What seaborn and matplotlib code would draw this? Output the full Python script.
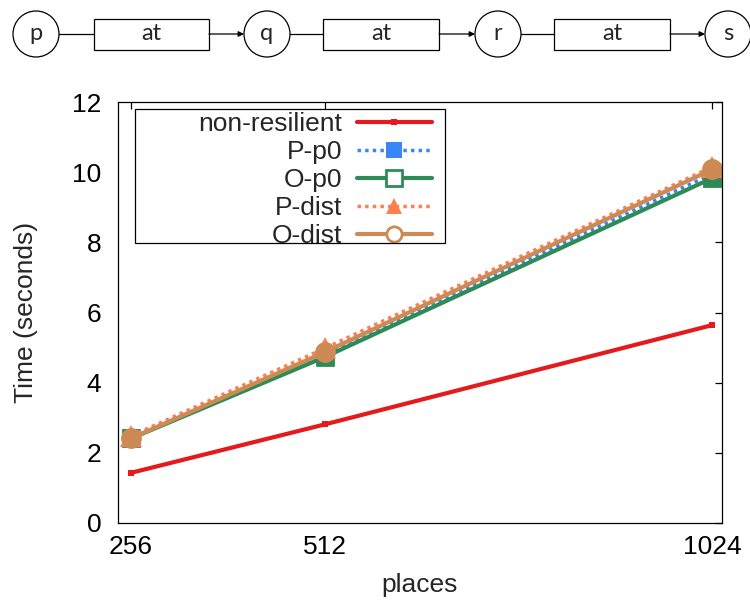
import matplotlib
matplotlib.use("Agg")
import matplotlib.pyplot as plt
import seaborn as sns
from matplotlib.patches import Circle, Rectangle

places = [256, 512, 1024]
non_resilient = [1.43, 2.81, 5.64]
p_p0 = [2.45, 4.80, 9.95]
o_p0 = [2.41, 4.73, 9.83]
p_dist = [2.48, 4.98, 10.15]
o_dist = [2.41, 4.87, 10.08]

series_names = ["non-resilient", "P-p0", "O-p0", "P-dist", "O-dist"]
x_ticks = [256, 512, 1024]
y_ticks = [0, 2, 4, 6, 8, 10, 12]
nodes = ["p", "q", "r", "s"]
edge_label = "at"

sns.set_style("white")
plt.rcParams["font.family"] = ["Liberation Sans", "DejaVu Sans"]
FS = 19

W, H = 750, 602
fig = plt.figure(figsize=(W / 100, H / 100), dpi=100)
L, R, T, B = 118, 722, 102, 523
ax = fig.add_axes([L / W, 1 - B / H, (R - L) / W, (B - T) / H])

colors = ["#e41a1c", "#3a86f8", "#2e8b57", "#ff7f50", "#cd8a55"]
styles = [
    dict(linestyle="-", marker="s", markersize=5, linewidth=3, markeredgewidth=0),
    dict(linestyle=(0, (1, 1.2)), marker="s", markersize=12, linewidth=2.5, markeredgewidth=0),
    dict(linestyle="-", marker="s", markersize=12, linewidth=3, markeredgewidth=2),
    dict(linestyle=(0, (1, 1.2)), marker="^", markersize=16, linewidth=2.5, markeredgewidth=0),
    dict(linestyle="-", marker="o", markersize=13, linewidth=3, markeredgewidth=2),
]
data = [non_resilient, p_p0, o_p0, p_dist, o_dist]
for name, vals, col, st in zip(series_names, data, colors, styles):
    sns.lineplot(x=places, y=vals, ax=ax, label=name, color=col,
                 markeredgecolor=col, markerfacecolor=col, **st)

ax.set_xlim(238.8, 1037)
ax.set_ylim(0, 12)
ax.set_xticks(x_ticks)
ax.set_xticklabels([str(t) for t in x_ticks])
ax.set_yticks(y_ticks)
ax.set_yticklabels([str(t) for t in y_ticks])
ax.tick_params(direction="in", length=5, width=0.9, top=True, right=True,
               labelsize=FS, colors="black")
ax.tick_params(axis="y", pad=12)
ax.tick_params(axis="x", pad=8.5)
for s in ax.spines.values():
    s.set_linewidth(0.9)
    s.set_color("black")
ax.grid(False)

ax.set_xlabel("places", fontsize=FS)
ax.set_ylabel("Time (seconds)", fontsize=FS)
ax.xaxis.set_label_coords(0.5, (B - 573) / (B - T))
ax.yaxis.set_label_coords((38.5 - L) / (R - L), 0.5)

leg = ax.legend(loc="upper right", bbox_to_anchor=(432 / W, 1 - 112 / H),
                bbox_transform=fig.transFigure, frameon=False, markerfirst=False,
                fontsize=FS, handlelength=2.85, handletextpad=0.55,
                labelspacing=0.15, borderpad=0, borderaxespad=0, numpoints=1)
for i, h in enumerate(leg.legend_handles):
    if i in (2, 4):
        h.set_markerfacecolor("white")
        h.set_markersize(11)
    elif i in (1, 3):
        h.set_markersize(11)

fig.add_artist(Rectangle((135 / W, 1 - 243 / H), 310 / W, 134 / H,
                         transform=fig.transFigure, fill=False, lw=0.9, ec="black"))

# top diagram
dax = fig.add_axes([0, 0, 1, 1])
dax.set_xlim(0, W)
dax.set_ylim(H, 0)
dax.axis("off")
dax.patch.set_alpha(0)
cx = [36, 267, 498, 728]
cy = 34
r = 23
boxes = [(94, 209), (323, 439), (554, 670)]
for c, n in zip(cx, nodes):
    dax.add_patch(Circle((c, cy), r, fill=False, lw=0.9, ec="black"))
    dax.text(c, cy, n, ha="center", va="center", fontsize=17, family=["Lato", "DejaVu Sans"])
for i, (x0, x1) in enumerate(boxes):
    dax.add_patch(Rectangle((x0, 18.5), x1 - x0, 31, fill=False, lw=0.9, ec="black"))
    dax.text((x0 + x1) / 2, cy, edge_label, ha="center", va="center", fontsize=17,
             family=["Lato", "DejaVu Sans"])
    dax.plot([cx[i] + r, x0], [cy, cy], color="black", lw=0.9)
    dax.annotate("", xy=(cx[i + 1] - r, cy), xytext=(x1, cy),
                 arrowprops=dict(arrowstyle="-|>", lw=0.9, color="black",
                                 mutation_scale=8, shrinkA=0, shrinkB=0))

fig.savefig("out.png", dpi=100)
